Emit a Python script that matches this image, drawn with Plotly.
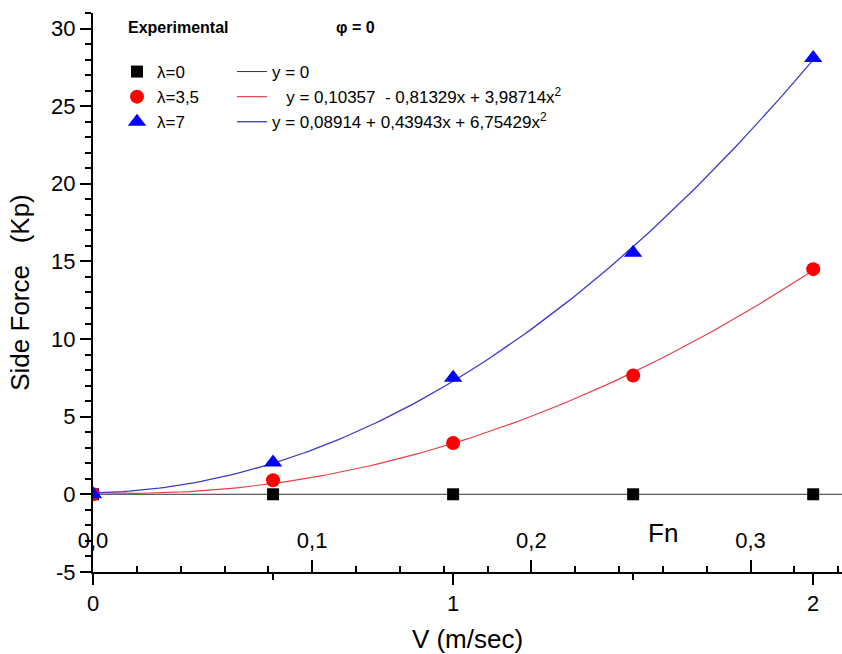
import numpy as np
import plotly.graph_objects as go

# ---------------- data ----------------
V = [0, 0.5, 1, 1.5, 2]                      # m/sec
side_l0 = [0, 0, 0, 0, 0]                    # Kp, lambda = 0
side_l35 = [0, 0.9, 3.3, 7.65, 14.5]         # Kp, lambda = 3.5
side_l7 = [0, 2.05, 7.5, 15.55, 28.1]        # Kp, lambda = 7

coef_l0 = [0, 0, 0]
coef_l35 = [0.10357, -0.81329, 3.98714]
coef_l7 = [0.08914, 0.43943, 6.75429]

series_names = ["λ=0", "λ=3,5", "λ=7"]
fit_names = [
    "y = 0",
    "\u00a0\u00a0\u00a0y = 0,10357 \u00a0- 0,81329x + 3,98714x<sup>2</sup>",
    "y = 0,08914 + 0,43943x + 6,75429x<sup>2</sup>",
]

y_tickvals = [-5, 0, 5, 10, 15, 20, 25, 30]
y_ticktext = ["-5", "0", "5", "10", "15", "20", "25", "30"]
v_tickvals = [0, 1, 2]
v_ticktext = ["0", "1", "2"]
fn_tickvals = [0.0, 0.1, 0.2, 0.3]
fn_ticktext = ["0,0", "0,1", "0,2", "0,3"]

FN_PER_V = 0.1643
V_MAX = 2.08
Y_RANGE = [-5.005, 31]

FONT = "Liberation Sans, Arial, sans-serif"


def poly(c, x):
    x = np.asarray(x)
    return c[0] + c[1] * x + c[2] * x ** 2


fig = go.Figure()

# fit lines
fit_x = np.linspace(0, 2, 121)
fit_x0 = np.linspace(0, V_MAX, 2)
fit_specs = [
    (fit_x0, coef_l0, "#333333", 1.0),
    (fit_x, coef_l35, "#e8404a", 1.2),
    (fit_x, coef_l7, "#3a3ad0", 1.3),
]
for (xx, c, col, w), nm in zip(fit_specs, fit_names):
    fig.add_trace(go.Scatter(x=xx, y=poly(c, xx), mode="lines",
                             line=dict(color=col, width=w), name=nm,
                             legend="legend2", hoverinfo="skip"))

# data markers
mk = [("square", "#000000", 12), ("circle", "#ff0000", 14), ("triangle-up", "#0000ff", 16)]
for ys, (sym, col, sz), nm in zip([side_l0, side_l35, side_l7], mk, series_names):
    fig.add_trace(go.Scatter(x=V, y=ys, mode="markers",
                             marker=dict(symbol=sym, color=col, size=sz, line=dict(width=0)),
                             name=nm, legend="legend"))

# invisible trace so the Fn axis exists
fig.add_trace(go.Scatter(x=[0, V_MAX * FN_PER_V], y=[None, None], xaxis="x2",
                         mode="lines", showlegend=False, hoverinfo="skip"))

axis_common = dict(showgrid=False, zeroline=False, linecolor="black", tickcolor="black")

fig.update_layout(
    width=842, height=654,
    margin=dict(l=93, r=0, t=13, b=82),
    paper_bgcolor="white", plot_bgcolor="white",
    font=dict(family=FONT, color="black"),
    xaxis=dict(
        **axis_common, range=[0, V_MAX], showline=True, linewidth=2,
        tickvals=v_tickvals, ticktext=v_ticktext, ticks="outside", ticklen=11, tickwidth=2,
        tickfont=dict(size=22, color="black"),
        minor=dict(dtick=0.5, tick0=0, ticks="outside", ticklen=6, tickwidth=2, tickcolor="black", showgrid=False),
        title=dict(text="V (m/sec)", font=dict(size=26, color="black"), standoff=18),
    ),
    xaxis2=dict(
        **axis_common, overlaying="x", anchor="y", side="bottom",
        range=[0, V_MAX * FN_PER_V], showline=False,
        tickvals=fn_tickvals, ticktext=fn_ticktext, ticks="inside", ticklen=12, tickwidth=2,
        ticklabelposition="inside", ticklabelstandoff=9, ticklabeloverflow="allow",
        tickfont=dict(size=22, color="black"),
        minor=dict(dtick=0.02, tick0=0, ticks="inside", ticklen=6, tickwidth=2, tickcolor="black", showgrid=False),
    ),
    yaxis=dict(
        **axis_common, range=Y_RANGE, showline=True, linewidth=2,
        tickvals=y_tickvals, ticktext=y_ticktext, ticks="outside", ticklen=11, tickwidth=2,
        tickfont=dict(size=22, color="black"), ticklabeloverflow="allow",
        minor=dict(dtick=1, tick0=0, ticks="outside", ticklen=6, tickwidth=2, tickcolor="black", showgrid=False),
        title=dict(text="Side Force \u00a0\u00a0(Kp)", font=dict(size=26, color="black"), standoff=14),
    ),
    legend=dict(x=(117 - 93) / 749, y=1 - (54 - 13) / 559, xanchor="left", yanchor="top",
                bgcolor="rgba(0,0,0,0)", font=dict(size=17, color="black"), tracegroupgap=0),
    legend2=dict(x=(232 - 93) / 749, y=1 - (54 - 13) / 559, xanchor="left", yanchor="top",
                 bgcolor="rgba(0,0,0,0)", font=dict(size=17, color="black"), tracegroupgap=0),
    annotations=[
        dict(text="<b>Experimental</b>", xref="paper", yref="paper",
             x=(126 - 93) / 749, y=1 - (28 - 13) / 559, xanchor="left", yanchor="middle",
             showarrow=False, font=dict(size=16, color="black")),
        dict(text="<b>φ = 0</b>", xref="paper", yref="paper",
             x=(334 - 93) / 749, y=1 - (28 - 13) / 559, xanchor="left", yanchor="middle",
             showarrow=False, font=dict(size=16, color="black")),
        dict(text="Fn", xref="x2", yref="y", x=0.26, y=-2.5, xanchor="center", yanchor="middle",
             showarrow=False, font=dict(size=26, color="black")),
    ],
)

fig.write_html("out.html")
